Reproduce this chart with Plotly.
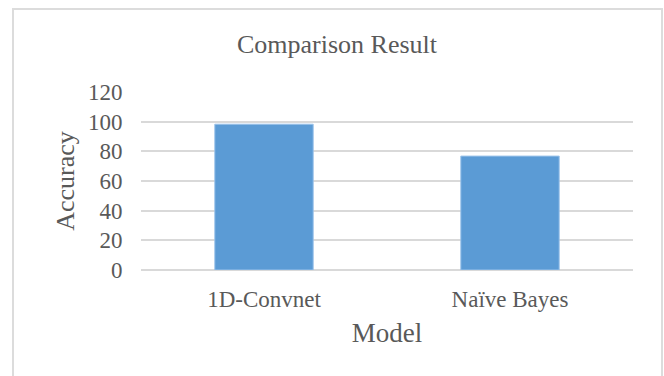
import plotly.graph_objects as go

# Model accuracy comparison
models = ["1D-Convnet", "Naïve Bayes"]
accuracy = [98.3, 76.8]
y_ticks = [0, 20, 40, 60, 80, 100, 120]

text_color = "#595959"
serif = "Liberation Serif, Times New Roman, serif"

fig = go.Figure(
    go.Bar(
        x=models,
        y=accuracy,
        marker=dict(color="#5B9BD5", line=dict(color="#9cc3ea", width=1)),
        width=0.4,
    )
)

fig.update_layout(
    width=664,
    height=376,
    margin=dict(l=141, r=31, t=92, b=106),
    paper_bgcolor="white",
    plot_bgcolor="white",
    showlegend=False,
    font=dict(family=serif, color=text_color),
    title=dict(
        text="Comparison Result",
        x=337 / 664,
        xanchor="center",
        y=1 - 44 / 376,
        yanchor="middle",
        font=dict(size=26, color=text_color, family=serif),
    ),
    shapes=[
        # light frame around the chart area
        dict(
            type="rect",
            xref="paper",
            yref="paper",
            x0=(13 - 141) / 492,
            x1=(662 - 141) / 492,
            y0=-1.0,
            y1=(270 - 9) / 178,
            line=dict(color="#dcdcdc", width=2),
            fillcolor="rgba(0,0,0,0)",
            layer="below",
        )
    ],
)

fig.update_xaxes(
    showgrid=False,
    showline=False,
    zeroline=False,
    ticks="outside",
    ticklen=8,
    tickcolor="rgba(0,0,0,0)",
    tickfont=dict(size=23, color=text_color, family=serif),
    title=dict(text="Model", font=dict(size=27, color=text_color, family=serif), standoff=12),
)

fig.update_yaxes(
    range=[0, 120],
    tickvals=y_ticks,
    showgrid=True,
    gridcolor="#d9d9d9",
    gridwidth=1.5,
    zeroline=True,
    zerolinecolor="#d9d9d9",
    zerolinewidth=1.5,
    showline=False,
    ticks="outside",
    ticklen=13,
    tickcolor="rgba(0,0,0,0)",
    tickfont=dict(size=23, color=text_color, family=serif),
    title=dict(text="Accuracy", font=dict(size=26, color=text_color, family=serif), standoff=5),
)

fig.write_html("out.html")
